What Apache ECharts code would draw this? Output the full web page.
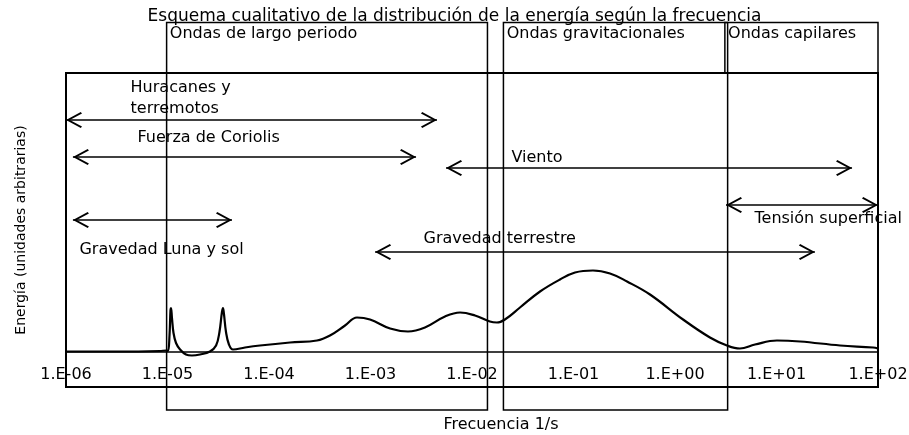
<!DOCTYPE html>
<html><head><meta charset="utf-8">
<script src="https://cdn.jsdelivr.net/npm/echarts/dist/echarts.min.js"></script>
<style>html,body{margin:0;padding:0;background:#fff}#c{width:909px;height:435px}</style>
</head><body><div id="c"></div>
<script>
// ---- data ----
const tickLabels = ['1.E-06','1.E-05','1.E-04','1.E-03','1.E-02','1.E-01','1.E+00','1.E+01','1.E+02'];
const tickExponents = [-6,-5,-4,-3,-2,-1,0,1,2];

const freq = [1.0e-6,3.4e-6,8.4e-6,9.66e-6,1.01e-5,1.047e-5,1.07e-5,1.083e-5,1.107e-5,1.146e-5,1.213e-5,1.33e-5,1.52e-5,1.74e-5,2.09e-5,2.62e-5,3.01e-5,3.25e-5,3.44e-5,3.52e-5,3.6e-5,3.77e-5,4.03e-5,4.42e-5,5.8e-5,8.15e-5,1.61e-4,2.97e-4,3.99e-4,5.61e-4,7.36e-4,9.89e-4,1.56e-3,2.34e-3,3.44e-3,5.42e-3,7.62e-3,1.07e-2,1.5e-2,1.76e-2,2.11e-2,2.97e-2,4.68e-2,7.36e-2,0.1035,0.1556,0.229,0.337,0.567,1.2,2.21,3.25,4.36,6.14,10.1,17.1,42.3,89.4,100];
const energy = [0.5,0.5,1,1.5,1,17,42,44,34,19,9,2.5,-2.5,-3.5,-2.5,0.5,6.5,20,40,44,38,20,7.5,2.5,4.5,6.5,9.5,11.5,16.5,26.5,34.5,32.5,23.5,20.5,24.5,35.5,39.5,36.5,30.5,29.5,32.5,44.5,60.5,72.5,79.5,81.5,78.5,70.5,57.5,32.5,14.5,6.5,3.5,7.5,11.5,10.5,6.5,4.5,3.5];

// frames (frequency range, energy range)
const boxNames = ['', 'Ondas de largo periodo', 'Ondas gravitacionales', 'Ondas capilares'];
const boxFreqFrom = [1e-6, 9.8e-6, 0.0204, 3.1];
const boxFreqTo = [100, 0.0142, 3.3, 100];
const boxEnergyFrom = [-35, -58, -58, 279];
const boxEnergyTo = [279, 329.5, 329.5, 329.5];

// arrows (double headed) : frequency range and energy level
const arrowFrom = [1.0e-6, 1.17e-6, 1.17e-6, 5.55e-3, 3.18, 1.11e-3];
const arrowTo = [4.52e-3, 2.81e-3, 4.32e-5, 55.5, 100, 23.9];
const arrowLevel = [232, 195, 132, 184, 147, 100];

// annotations text
const noteText = ['Huracanes y\nterremotos', 'Fuerza de Coriolis', 'Gravedad Luna y sol', 'Viento', 'Tensión superficial', 'Gravedad terrestre'];
const noteFreq = [4.28e-6, 5.01e-6, 1.34e-6, 2.42e-2, 6.0, 3.29e-3];
const noteLevel = [253.5, 214, 102, 194, 133, 113];

// ---- chart ----
const FONT = 'DejaVu Sans';
const chevron = 'path://M10,0 L20,17 L18.2,18.4 L10,4.4 L1.8,18.4 L0,17 Z';
const chart = echarts.init(document.getElementById('c'), null, {renderer: 'canvas'});

const areaData = boxNames.map((n, i) => [
  {coord: [boxFreqFrom[i], boxEnergyFrom[i]], name: n,
   itemStyle: {color: 'rgba(0,0,0,0)', borderColor: '#000', borderWidth: i === 0 ? 2 : 1.5},
   label: {show: n !== '', position: 'insideTopLeft', distance: 4, color: '#000', fontSize: 16, fontFamily: FONT}},
  {coord: [boxFreqTo[i], boxEnergyTo[i]]}
]);
const lineData = arrowFrom.map((f, i) => [
  {coord: [f, arrowLevel[i]]}, {coord: [arrowTo[i], arrowLevel[i]]}
]);
const pointData = noteText.map((t, i) => ({coord: [noteFreq[i], noteLevel[i]], value: t}));

chart.setOption({
  animation: false,
  backgroundColor: '#fff',
  title: {
    text: 'Esquema cualitativo de la distribución de la energía según la frecuencia',
    left: 'center', top: 3,
    textStyle: {fontSize: 17, fontWeight: 'normal', color: '#000', fontFamily: FONT}
  },
  grid: {left: 66, right: 31, top: 22, bottom: 25, containLabel: false, outerBoundsMode: 'none'},
  xAxis: {
    type: 'log', logBase: 10, min: 1e-6, max: 100, splitNumber: 8,
    axisLine: {onZero: true, lineStyle: {color: '#000', width: 1.5}},
    axisTick: {show: false},
    splitLine: {show: false},
    axisLabel: {
      interval: 0, showMinLabel: true, showMaxLabel: true, hideOverlap: false,
      margin: -43, color: '#000', fontSize: 16, fontFamily: FONT,
      formatter: v => {
        const e = Math.round(Math.log10(v));
        const k = tickExponents.indexOf(e);
        return k >= 0 ? tickLabels[k] : '';
      }
    }
  },
  yAxis: {
    type: 'value', min: -58, max: 330, show: false
  },
  graphic: [
    {type: 'text', x: 21, y: 230, rotation: Math.PI / 2,
     style: {text: 'Energía (unidades arbitrarias)', fill: '#000', font: '14px "DejaVu Sans"', align: 'center', verticalAlign: 'middle'}},
    {type: 'text', x: 501, y: 425,
     style: {text: 'Frecuencia 1/s', fill: '#000', font: '16px "DejaVu Sans"', align: 'center', verticalAlign: 'middle'}}
  ],
  series: [{
    type: 'line',
    data: freq.map((f, i) => [f, energy[i]]),
    showSymbol: false,
    smooth: 0.4,
    clip: false,
    lineStyle: {color: '#000', width: 2.2},
    itemStyle: {color: '#000'},
    silent: true,
    markArea: {silent: true, data: areaData},
    markLine: {
      silent: true,
      symbol: [chevron, chevron],
      symbolSize: 16,
      symbolOffset: [[0, 8], [0, 8]],
      label: {show: false},
      lineStyle: {color: '#000', width: 1.5, type: 'solid'},
      emphasis: {disabled: true},
      data: lineData
    },
    markPoint: {
      silent: true,
      symbol: 'rect', symbolSize: 1,
      itemStyle: {color: 'rgba(0,0,0,0)'},
      label: {show: true, position: 'right', distance: 0, color: '#000', fontSize: 16, fontFamily: FONT,
              lineHeight: 21, formatter: p => p.value},
      data: pointData
    }
  }]
});
</script>
</body></html>
